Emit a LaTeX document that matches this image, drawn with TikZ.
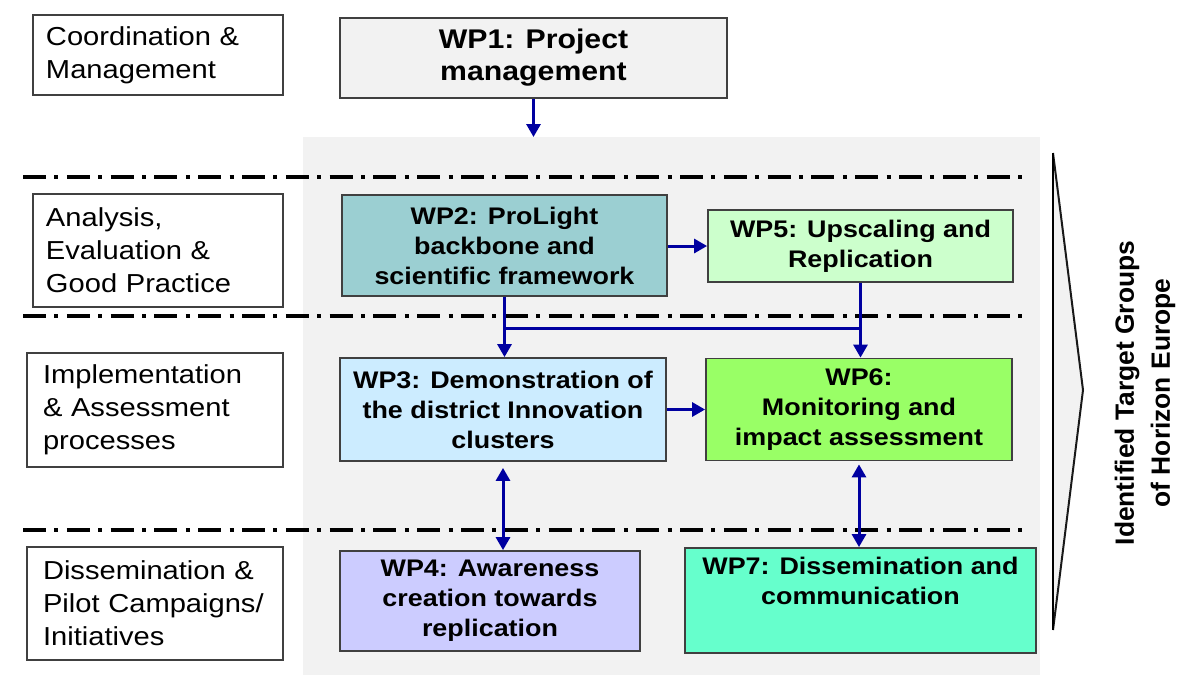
\documentclass[tikz,border=0pt]{standalone}
\usepackage{fontspec}
\setmainfont{Liberation Sans}[FakeStretch=1.12]
\newfontfamily\plainsans{Liberation Sans}
\usetikzlibrary{arrows.meta}

\definecolor{bgGray}{RGB}{242,242,242}
\definecolor{arrowBlue}{RGB}{0,0,160}
\definecolor{wpTeal}{RGB}{155,207,210}
\definecolor{wpMint}{RGB}{204,255,204}
\definecolor{wpSky}{RGB}{204,236,255}
\definecolor{wpLime}{RGB}{153,255,102}
\definecolor{wpLilac}{RGB}{204,204,255}
\definecolor{wpAqua}{RGB}{102,255,204}

\begin{document}
\begin{tikzpicture}[x=0.5pt,y=-0.5pt]
\tikzstyle{every node}+=[inner sep=0pt]
\tikzstyle{lane}=[draw=black!75, line width=0.9pt, fill=white, minimum width=125pt, text width=112pt, align=left, font=\fontsize{13}{16.5}\selectfont]
\tikzstyle{wp}=[draw=black!75, line width=0.9pt, align=center, font=\bfseries\fontsize{12}{15}\selectfont]
\tikzstyle{sep}=[black, line width=1.6pt, dash pattern=on 11.5pt off 4.2pt on 2pt off 4.2pt]
\tikzstyle{flow}=[arrowBlue, line width=1.5pt, -{Triangle[length=6.5pt,width=7pt]}]
\tikzstyle{twoway}=[flow, {Triangle[length=6.5pt,width=7pt]}-{Triangle[length=6.5pt,width=7pt]}]
\useasboundingbox (0,0) rectangle (1200,682);
\fill [bgGray] (303,137) rectangle (1040,675);
% level separators
\draw [sep] (23,177) -- (1025,177);
\draw [sep] (23,316) -- (1025,316);
\draw [sep] (23,530) -- (1025,530);
% levels
\node [lane, minimum height=40pt] (coord) at (158,55) {Coordination \&\\Management};
\node [lane, minimum height=56.5pt] (analysis) at (158,250.5) {Analysis,\\Evaluation \&\\Good Practice};
\node [lane, minimum width=128pt, minimum height=57pt] (impl) at (155,410) {Implementation\\\& Assessment\\processes};
\node [lane, minimum width=128pt, minimum height=56.5pt] (dissem) at (155,603.5) {Dissemination \&\\Pilot Campaigns/\\Initiatives};
% work packages
\node [wp, fill=bgGray, minimum width=193.5pt, minimum height=40pt, font=\bfseries\fontsize{13.5}{16}\selectfont] (wp1) at (533.5,58) {WP1: Project\\management};
\node [wp, fill=wpTeal, minimum width=162.5pt, minimum height=50.5pt] (wp2) at (504.5,245.5) {WP2: ProLight\\backbone and\\scientific framework};
\node [wp, fill=wpMint, minimum width=152.5pt, minimum height=36pt] (wp5) at (860.5,246) {WP5: Upscaling and\\Replication};
\node [wp, fill=wpSky, minimum width=163pt, minimum height=51.5pt] (wp3) at (503,409.5) {WP3: Demonstration of\\the district Innovation\\clusters};
\node [wp, fill=wpLime, minimum width=153pt, minimum height=51pt] (wp6) at (859,409.5) {WP6:\\Monitoring and\\impact assessment};
\node [wp, fill=wpLilac, minimum width=150pt, minimum height=50pt] (wp4) at (490,601) {WP4: Awareness\\creation towards\\replication};
\node [wp, fill=wpAqua, minimum width=175.5pt, minimum height=52.5pt] (wp7) at (860.5,600.5) {WP7: Dissemination and\\communication\\\strut};
% connectors
\coordinate (top) at (533.5,137);
\coordinate (j2) at (wp2.south |- 0,328);
\coordinate (j5) at (wp5.south |- 0,328);
\draw [flow] (wp1.south) -- (top);
\draw [flow] (wp5.west -| wp2.east) -- (wp5.west);
\draw [flow] (wp2.south) -- (wp2.south |- wp3.north);
\draw [flow] (wp5.south) -- (wp5.south |- wp6.north);
\draw [arrowBlue, line width=1.5pt] (j2) -- (j5);
\draw [flow] (wp6.west -| wp3.east) -- (wp6.west);
\draw [twoway] ([yshift=-3pt]wp3.south) -- (wp3.south |- wp4.north);
\draw [twoway] ([yshift=-1.5pt]wp6.south) -- (wp6.south |- wp7.north);
% target groups
\fill [bgGray] (1053,153) -- (1083,390) -- (1053,630) -- cycle;
\draw [black!90, line width=1pt] (1053,153) -- (1083,390) -- (1053,630);
\draw [black, line width=1.1pt] (1053,153) -- (1053,630);
\node [rotate=90, align=center, font=\plainsans\bfseries\fontsize{13.2}{18}\selectfont] (target) at (1145,393) {Identified Target Groups\\of Horizon Europe};
\end{tikzpicture}
\end{document}
